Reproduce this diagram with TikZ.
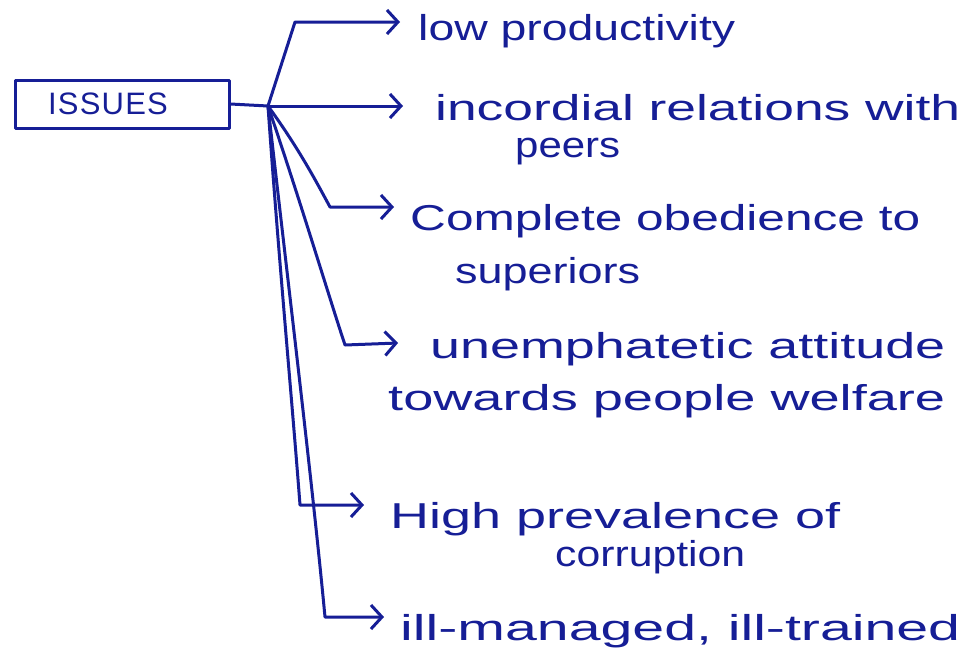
\documentclass[tikz,border=0pt]{standalone}
\usepackage{fontspec}
\setmainfont{Liberation Sans}
\usetikzlibrary{arrows.meta}
\definecolor{ink}{RGB}{22,30,150}
\newcommand{\widetext}[2]{\resizebox{#1pt}{\height}{#2}}
\begin{document}
\begin{tikzpicture}[x=1pt,y=-1pt,
  inkline/.style={draw=ink,line width=3pt,line cap=round,line join=round},
  arr/.style={inkline,-{Straight Barb[length=11pt,width=24pt]}},
  lbl/.style={text=ink,anchor=base west,inner sep=0pt,font=\fontsize{36}{44}\selectfont}]
\useasboundingbox[fill=white] (0,0) rectangle (966,670);
% box
\node[inkline,minimum width=214pt,minimum height=48pt,inner sep=0pt] (issues) at (122,104) {};
\node[text=ink,inner sep=0pt,font=\fontsize{31}{34}\selectfont] (issuestext) at (108,104) {\addfontfeature{LetterSpace=4}ISSUES};
\coordinate (J) at (268,106);
\draw[inkline] (issues.east) -- (J);
% free ends
\coordinate (a1) at (400,22);
\coordinate (a2) at (403,106);
\coordinate (a3) at (394,207);
\coordinate (a4) at (398,343);
\coordinate (a5) at (364,505);
\coordinate (a6) at (384,617);
% branches
\draw[arr] (J) -- (295,22) -- (a1);
\draw[arr] (J) -- (a2);
\draw[arr] (J) .. controls (300,150) and (318,185) .. (330,207) -- (a3);
\draw[arr] (J) .. controls (300,200) and (330,300) .. (345,345) -- (a4);
\draw[arr] (J) .. controls (278,250) and (292,400) .. (300,505) -- (a5);
\draw[arr] (J) .. controls (290,300) and (312,480) .. (325,617) -- (a6);
% labels
\node[lbl] (t1) at (418,40) {\widetext{317}{low productivity}};
\node[lbl] (t2) at (435,120) {\widetext{525}{incordial relations with}};
\node[lbl] (t2b) at (515,157) {\widetext{105}{peers}};
\node[lbl] (t3) at (410,230) {\widetext{510}{Complete obedience to}};
\node[lbl] (t3b) at (455,283) {\widetext{185}{superiors}};
\node[lbl] (t4) at (430,358) {\widetext{515}{unemphatetic attitude}};
\node[lbl] (t4b) at (388,410) {\widetext{557}{towards people welfare}};
\node[lbl] (t5) at (390,528) {\widetext{450}{High prevalence of}};
\node[lbl] (t5b) at (555,566) {\widetext{190}{corruption}};
\node[lbl] (t6) at (400,640) {\widetext{560}{ill-managed, ill-trained}};
\end{tikzpicture}
\end{document}
